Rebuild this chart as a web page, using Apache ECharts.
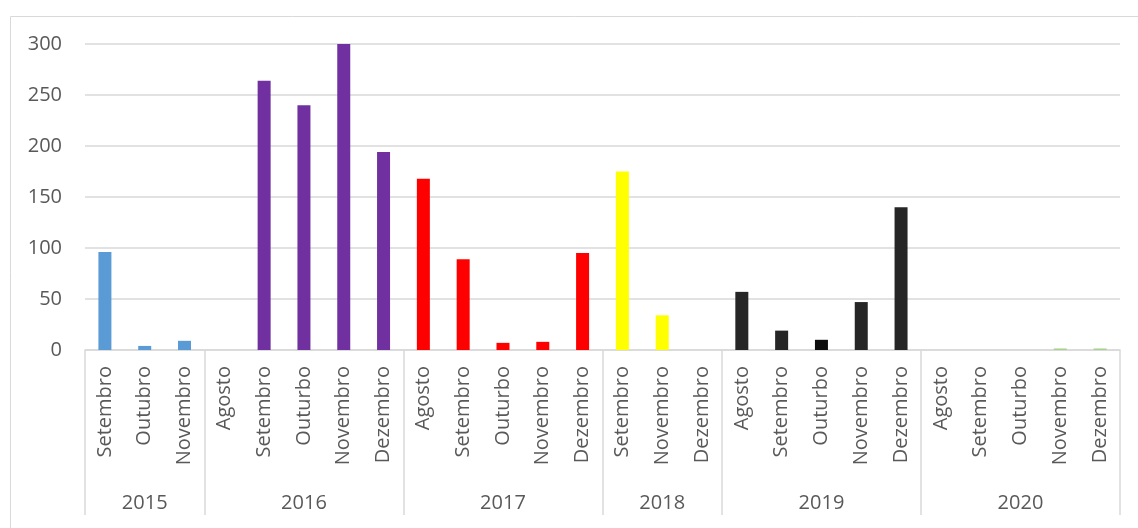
<!DOCTYPE html>
<html>
<head>
<meta charset="utf-8">
<script src="https://cdn.jsdelivr.net/npm/echarts@6/dist/echarts.min.js"></script>
<style>
  html, body { margin: 0; padding: 0; background: #fff; }
  #chart { width: 1138px; height: 528px; }
</style>
</head>
<body>
<div id="chart"></div>
<script>
// 数据
const months = [
  'Setembro', 'Outubro', 'Novembro',
  'Agosto', 'Setembro', 'Outurbo', 'Novembro', 'Dezembro',
  'Agosto', 'Setembro', 'Outurbo', 'Novembro', 'Dezembro',
  'Setembro', 'Novembro', 'Dezembro',
  'Agosto', 'Setembro', 'Outurbo', 'Novembro', 'Dezembro',
  'Agosto', 'Setembro', 'Outurbo', 'Novembro', 'Dezembro'
]
const years = ['2015', '2016', '2017', '2018', '2019', '2020']
const yearSizes = [3, 5, 5, 3, 5, 5]
const values = [
  96, 4, 9,
  0, 264, 240, 301, 194,
  168, 89, 7, 8, 95,
  175, 34, 0,
  57, 19, 10, 47, 140,
  0, 0, 0, 1.5, 1.5
]
const yearColors = ['#5B9BD5', '#7030A0', '#FF0000', '#FFFF00', '#262626', '#A9D18E']
const yTicks = [0, 50, 100, 150, 200, 250, 300]

// 每个类目所属年份
const yearIndex = []
const groupStart = {}
const groupMiddle = {}
let pos = 0
yearSizes.forEach((n, i) => {
  groupStart[pos] = true
  groupMiddle[pos + Math.floor(n / 2)] = years[i]
  for (let k = 0; k < n; k++) yearIndex.push(i)
  pos += n
})

const textColor = '#595959'
const lineColor = '#D9D9D9'
const font = '"Open Sans", "Noto Sans", sans-serif'

const chart = echarts.init(document.getElementById('chart'))

chart.setOption({
  animation: false,
  graphic: [{
    type: 'rect',
    left: 8,
    top: 14,
    shape: { width: 1140, height: 530 },
    style: { fill: 'none', stroke: lineColor, lineWidth: 1 },
    silent: true
  }],
  grid: {
    left: 85,
    right: 18,
    top: 44,
    bottom: 178
  },
  xAxis: [{
    type: 'category',
    data: months,
    position: 'bottom',
    axisLine: { lineStyle: { color: lineColor, width: 1.5 } },
    axisTick: {
      show: true,
      length: 165,
      interval: function (index) { return !!groupStart[index] },
      lineStyle: { color: lineColor, width: 1.5 }
    },
    axisLabel: {
      rotate: 90,
      interval: 0,
      margin: 16,
      color: textColor,
      fontSize: 20,
      fontFamily: font
    }
  }, {
    type: 'category',
    data: months,
    position: 'bottom',
    offset: 135,
    axisLine: { show: false },
    axisTick: { show: false },
    axisLabel: {
      interval: function (index) { return !!groupMiddle[index] },
      formatter: function (value, index) { return groupMiddle[index] || '' },
      margin: 8,
      color: textColor,
      fontSize: 20,
      fontFamily: font
    }
  }],
  yAxis: {
    type: 'value',
    min: yTicks[0],
    max: yTicks[yTicks.length - 1],
    interval: 50,
    axisLine: { show: false },
    axisTick: { show: false },
    splitLine: { lineStyle: { color: lineColor, width: 1.5 } },
    axisLabel: {
      margin: 23,
      color: textColor,
      fontSize: 20,
      fontFamily: font
    }
  },
  series: [{
    type: 'bar',
    xAxisIndex: 0,
    barWidth: 13,
    data: values.map((v, i) => ({
      value: v,
      itemStyle: { color: (i === 18) ? '#0D0D0D' : yearColors[yearIndex[i]] }
    }))
  }]
})
</script>
</body>
</html>
